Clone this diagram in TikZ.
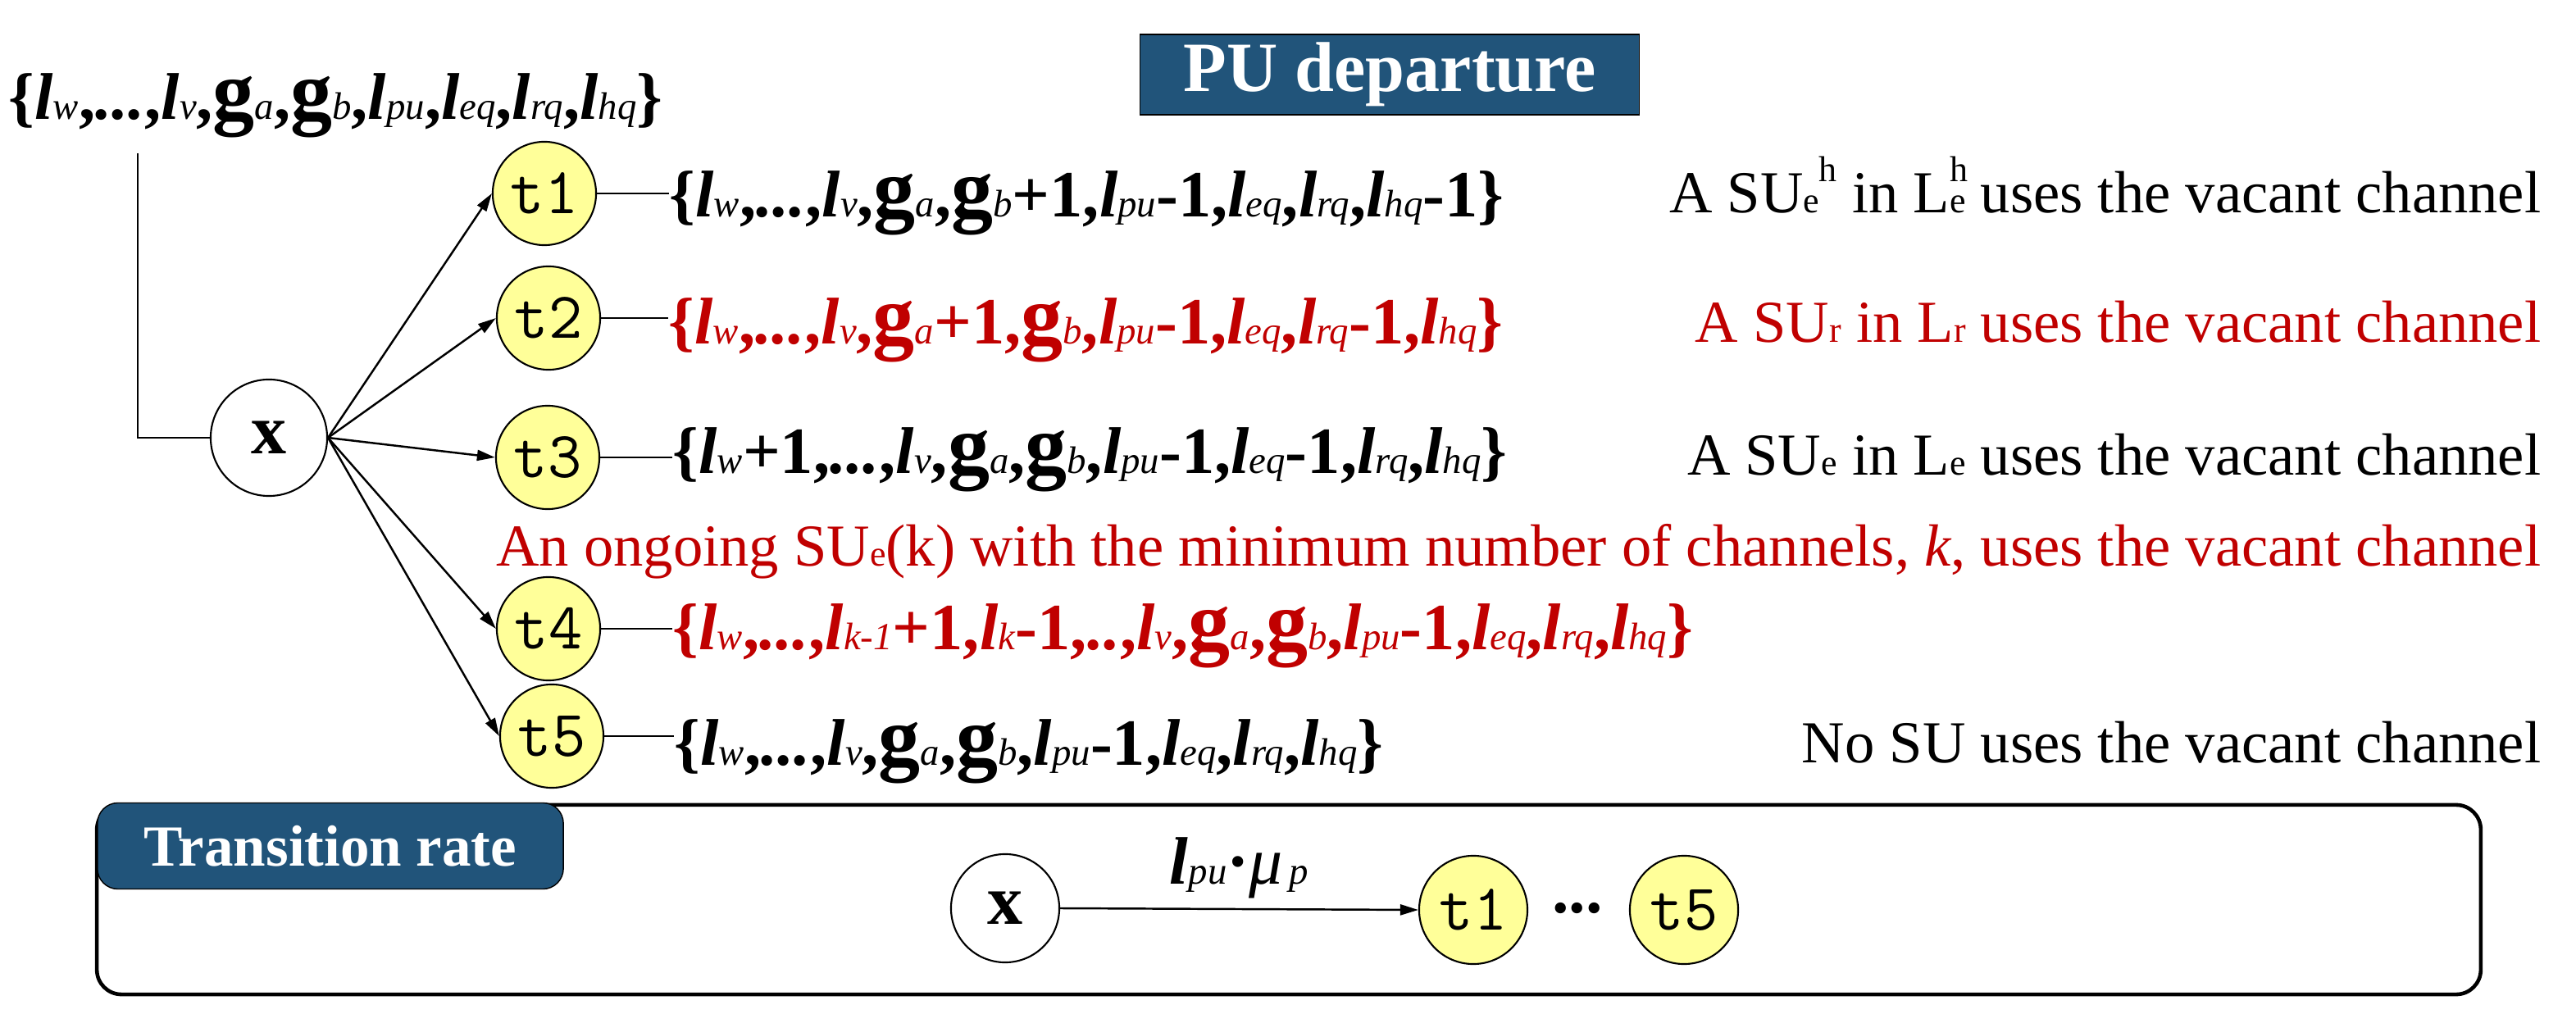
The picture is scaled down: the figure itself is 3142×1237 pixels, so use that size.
\documentclass[tikz,border=0pt]{standalone}
\usepackage{fontspec}
\newfontfamily\tnr{Liberation Serif}
\usetikzlibrary{arrows.meta,calc}
\definecolor{dblue}{RGB}{33,84,122}
\definecolor{tyel}{RGB}{255,255,153}
\definecolor{dred}{RGB}{192,0,0}
\newcommand\Ssub[1]{{\fontsize{13.3}{14}\selectfont\mdseries\itshape #1}}
\newcommand\Sl[1]{\textbf{\textit{l}}\Ssub{#1}}
\newcommand\Sg[1]{{\fontsize{29}{30}\selectfont\textbf{g}}\Ssub{#1}}
\newcommand\Sc{\textbf{,}}
\newcommand\Sd{\textbf{\textit{...}}}
\newcommand\Sdd{\textbf{\textit{..}}}
\newcommand\Sp{\textbf{+1}}
\newcommand\Sm{\textbf{-1}}
\newcommand\Lb{\textbf{\{}}
\newcommand\Rb{\textbf{\}}}
\newcommand\Dsub[1]{{\fontsize{12.5}{13}\selectfont #1}}
\newcommand\Dsup[1]{\raisebox{1.15ex}{\fontsize{12.5}{13}\selectfont #1}}
\newcommand\Dstk[2]{\rlap{\raisebox{1.15ex}{\fontsize{12.5}{13}\selectfont #1}}{\fontsize{12.5}{13}\selectfont #2}}
\begin{document}
\begin{tikzpicture}[x=0.01cm,y=-0.01cm,
 state/.style={anchor=base west, inner sep=0pt, font=\tnr\fontsize{22.9}{26}\selectfont},
 desc/.style={anchor=base east, inner sep=0pt, font=\tnr\fontsize{20.65}{24}\selectfont},
 tnode/.style={circle, draw, line width=0.6pt, fill=tyel, minimum size=1.26cm, inner sep=0pt, font=\ttfamily\fontsize{22.8}{24}\selectfont},
 xnode/.style={circle, draw, line width=0.6pt, fill=white, minimum size=1.42cm, inner sep=0pt, font=\tnr\bfseries\fontsize{24.5}{26}\selectfont},
 conn/.style={line width=0.7pt},
 arr/.style={conn, -{Triangle[length=0.22cm,width=0.13cm]}},
 banner/.style={fill=dblue, draw=black, line width=0.4pt, text=white, inner sep=0pt, font=\tnr\bfseries\fontsize{24.5}{26}\selectfont}
]
\useasboundingbox (0,0) rectangle (3142,1237);

% title
\node[banner, minimum width=6.09cm, minimum height=0.98cm] (pu) at (1695,91) {PU departure};

% source state
\node[state] (s0) at (10,146) {\Lb\Sl{w}\Sc\Sd\Sc\Sl{v}\Sc\Sg{a}\Sc\Sg{b}\Sc\Sl{pu}\Sc\Sl{eq}\Sc\Sl{rq}\Sc\Sl{hq}\Rb};
\coordinate (v0) at (168,187);
\node[xnode] (x) at (328,534) {x};

% targets
\node[tnode] (t1) at (664,236) {t1};
\node[tnode] (t2) at (669,388) {t2};
\node[tnode] (t3) at (668,558) {t3};
\node[tnode] (t4) at (669,767) {t4};
\node[tnode] (t5) at (673,898) {t5};

\node[state] (s1) at (816,265) {\Lb\Sl{w}\Sc\Sd\Sc\Sl{v}\Sc\Sg{a}\Sc\Sg{b}\Sp\Sc\Sl{pu}\Sm\Sc\Sl{eq}\Sc\Sl{rq}\Sc\Sl{hq}\Sm\Rb};
\node[state, text=dred] (s2) at (815,420) {\Lb\Sl{w}\Sc\Sd\Sc\Sl{v}\Sc\Sg{a}\Sp\Sc\Sg{b}\Sc\Sl{pu}\Sm\Sc\Sl{eq}\Sc\Sl{rq}\Sm\Sc\Sl{hq}\Rb};
\node[state] (s3) at (820,578) {\Lb\Sl{w}\Sp\Sc\Sd\Sc\Sl{v}\Sc\Sg{a}\Sc\Sg{b}\Sc\Sl{pu}\Sm\Sc\Sl{eq}\Sm\Sc\Sl{rq}\Sc\Sl{hq}\Rb};
\node[state, text=dred] (s4) at (820,792) {\Lb\Sl{w}\Sc\Sd\Sc\Sl{k-1}\Sp\Sc\Sl{k}\Sm\Sc\Sdd\Sc\Sl{v}\Sc\Sg{a}\Sc\Sg{b}\Sc\Sl{pu}\Sm\Sc\Sl{eq}\Sc\Sl{rq}\Sc\Sl{hq}\Rb};
\node[state] (s5) at (822,933) {\Lb\Sl{w}\Sc\Sd\Sc\Sl{v}\Sc\Sg{a}\Sc\Sg{b}\Sc\Sl{pu}\Sm\Sc\Sl{eq}\Sc\Sl{rq}\Sc\Sl{hq}\Rb};

% descriptions
\node[desc] (d1) at (3100,260) {A SU\Dsub{e}\Dsup{h} in L\Dstk{h}{e} uses the vacant channel};
\node[desc, text=dred] (d2) at (3100,418) {A SU\Dsub{r} in L\Dsub{r} uses the vacant channel};
\node[desc] (d3) at (3100,580) {A SU\Dsub{e} in L\Dsub{e} uses the vacant channel};
\node[desc, text=dred] (d4) at (3100,691) {An ongoing SU\Dsub{e}(k) with the minimum number of channels, \textit{k}, uses the vacant channel};
\node[desc] (d5) at (3100,930) {No SU uses the vacant channel};

% connectors
\draw[conn] (v0) |- (x.west);
\foreach \t in {t1,t2,t3,t4,t5} \draw[arr] (x.east) -- (\t.west);
\foreach \i in {1,...,5} \draw[conn] (t\i.east) -- (t\i.east -| s\i.west);

% transition rate panel
\node[draw, line width=1.3pt, rounded corners=0.3cm, minimum width=29.06cm, minimum height=2.31cm, inner sep=0pt] (frame) at (1572,1097.5) {};
\node[banner, rounded corners=0.25cm, minimum width=5.68cm, minimum height=1.05cm, font=\tnr\bfseries\fontsize{20.2}{22}\selectfont] (tr) at (403,1032) {Transition rate};
\node[xnode, minimum size=1.32cm] (xb) at (1226,1108) {x};
\node[tnode, minimum size=1.32cm] (tb1) at (1797,1110) {t1};
\node[tnode, minimum size=1.32cm] (tb5) at (2054,1110) {t5};
\node[inner sep=0pt, font=\tnr\bfseries\fontsize{23.3}{26}\selectfont] (dots) at (1924,1108) {...};
\draw[arr] (xb.east) -- node[above=0.12cm, inner sep=0pt, font=\tnr\fontsize{23.3}{26}\selectfont] (rate) {\textbf{\textit{l}}\Ssub{pu}\textbf{·}\textit{μ}\Ssub{\,p}} (tb1.west);
\end{tikzpicture}
\end{document}
